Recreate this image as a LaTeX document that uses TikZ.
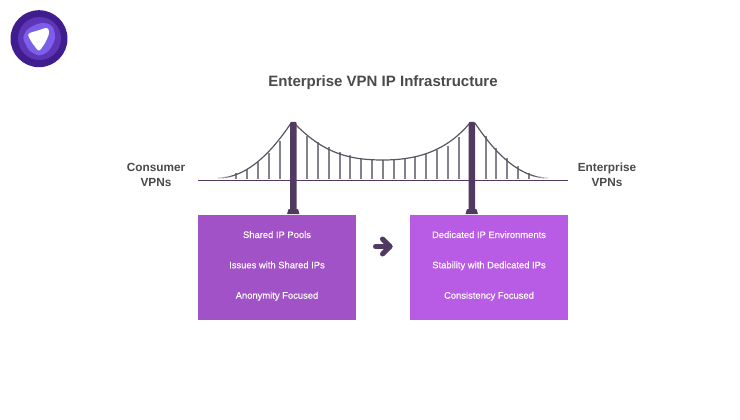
\documentclass[tikz,border=0pt]{standalone}
\usepackage{fontspec}
\setmainfont{Liberation Sans}
\definecolor{towerc}{HTML}{513A62}
\definecolor{cablec}{HTML}{5A5560}
\definecolor{hangc}{HTML}{85818A}
\definecolor{titlec}{HTML}{4A4A4A}
\definecolor{boxa}{HTML}{A052C6}
\definecolor{boxb}{HTML}{B85CE6}
\definecolor{logoa}{HTML}{3F1D8F}
\definecolor{logob}{HTML}{5F35B8}
\definecolor{logoc}{HTML}{7B5EEA}
\tikzset{
  panel/.style={minimum width=158pt,minimum height=105pt,inner sep=0pt,draw=none},
  itemtext/.style={text=white,font=\fontsize{9.4}{11}\selectfont\addfontfeatures{FakeBold=0.25},inner sep=0pt,anchor=base},
  sidetext/.style={text=titlec,font=\fontsize{11.8}{14.7}\selectfont\bfseries,align=center,inner sep=0pt},
  hanger/.style={draw=hangc,line width=1.3pt},
  cable/.style={draw=cablec,line width=1.2pt},
  tower/.style={fill=towerc,draw=none}
}
\begin{document}
\begin{tikzpicture}[x=1pt,y=-1pt]
\useasboundingbox (0,0) rectangle (740,420);
\fill[white] (0,0) rectangle (740,420);
% logo
\fill[logoa] (39,38.7) circle (28.5);
\fill[logob] (39.5,38.5) circle (21.5);
\fill[logoc] plot[smooth cycle,tension=0.8] coordinates {(24,35) (33,26) (47,23.5) (54.5,32) (52.5,45) (43,54.5) (33,53) (26,45)};
\fill[white] plot[smooth cycle,tension=0.55] coordinates {(28.5,34) (38,30.5) (47,28) (49,33) (46,41) (41,49) (38.5,50.5) (36,48) (31,41)};
% hangers
\foreach \x/\y in {236/173,247/169,258/162,269/153,280/141,
  307/136,318/142,329/147,340/152,350/155,361/158,372/159.5,383/160,
  394/160,405/159,415/157,426/154,437/150,448/146,459/137,
  486/136,496/148,507/158,518/166,529/173}
  \draw[hanger] (\x,\y) -- (\x,179);
% cables
\draw[cable] plot[domain=232:291,samples=40] (\x,{178-0.0103*(\x-218)*(\x-218)});
\draw[cable] (296,125) .. controls (325,154) and (350,160) .. (383,160)
   .. controls (416,160) and (445,152) .. (469,124);
\draw[cable] plot[domain=475:534,samples=40] (\x,{178-0.0103*(548-\x)*(548-\x)});
\foreach \i/\c in {0/90,1/70,2/50,3/30}{
  \draw[draw=cablec!\c!white,line width=1.2pt] plot[domain={232-3.5*(\i+1)}:{232-3.5*\i},samples=5] (\x,{178-0.0103*(\x-218)*(\x-218)});
  \draw[draw=cablec!\c!white,line width=1.2pt] plot[domain={534+3.5*\i}:{534+3.5*(\i+1)},samples=5] (\x,{178-0.0103*(548-\x)*(548-\x)});
}
% deck
\draw[draw=towerc,line width=1.9pt] (198,180.5) -- (568,180.5);
% towers
\fill[tower,rounded corners=1pt] (290,122) rectangle (296.5,212);
\fill[tower,rounded corners=0.6pt] (287,214) -- (288.5,209) -- (298,209) -- (299.5,214) -- cycle;
\fill[tower,rounded corners=1pt] (468.5,122) rectangle (475,212);
\fill[tower,rounded corners=0.6pt] (465.5,214) -- (467,209) -- (476.5,209) -- (478,214) -- cycle;
% panels
\node[panel,fill=boxa] (leftpanel) at (277,267.5) {};
\node[panel,fill=boxb] (rightpanel) at (489,267.5) {};
% texts
\node[itemtext] (l1) at (277,238) {Shared IP Pools};
\node[itemtext] (l2) at (277,268.3) {Issues with Shared IPs};
\node[itemtext] (l3) at (277,298.7) {Anonymity Focused};
\node[itemtext] (r1) at (489,238) {Dedicated IP Environments};
\node[itemtext] (r2) at (489,268.3) {Stability with Dedicated IPs};
\node[itemtext] (r3) at (489,298.7) {Consistency Focused};
\node[text=titlec,font=\fontsize{15}{18}\selectfont\bfseries,inner sep=0pt] (title) at (383,83) {Enterprise VPN IP Infrastructure};
\node[sidetext] (consumer) at (156,175) {Consumer\\VPNs};
\node[sidetext] (enterprise) at (607,175) {Enterprise\\VPNs};
% arrow
\draw[draw=towerc,line width=5pt,line cap=round,line join=round] (375.5,246.5) -- (390,246.5);
\draw[draw=towerc,line width=5pt,line cap=round,line join=round] (382.5,239) -- (390,246.5) -- (382.5,254);
\end{tikzpicture}
\end{document}
